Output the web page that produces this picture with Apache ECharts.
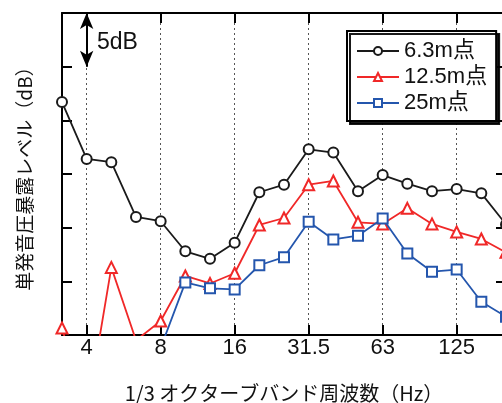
<!DOCTYPE html>
<html>
<head>
<meta charset="utf-8">
<script src="https://cdn.jsdelivr.net/npm/echarts@6/dist/echarts.min.js"></script>
<style>
html,body{margin:0;padding:0;background:#fff;}
#chart{width:502px;height:403px;}
</style>
</head>
<body>
<div id="chart"></div>
<script>
// 1/3 octave band centre frequencies (Hz)
const categories = ['3.15','4','5','6.3','8','10','12.5','16','20','25','31.5','40','50','63','80','100','125','160','200'];
// labelled / gridded bands
const tickLabels = ['4','8','16','31.5','63','125'];
// relative levels in dB (axis bottom = 0, 5 dB per tick)
const s63m  = [21.7, 16.4, 16.1, 11.0, 10.6, 7.8, 7.1, 8.6, 13.3, 14.0, 17.3, 17.0, 13.4, 14.9, 14.1, 13.4, 13.6, 13.2, 10.3];
const s125m = [0.65, -7.4, 6.3, -0.5, 1.3, 5.5, 4.8, 5.75, 10.25, 10.9, 14.0, 14.35, 10.5, 10.35, 11.8, 10.35, 9.6, 8.95, 7.7];
const s25m  = [null, null, null, null, -1.2, 4.9, 4.35, 4.25, 6.5, 7.25, 10.55, 8.9, 9.25, 10.85, 7.6, 5.9, 6.1, 3.1, 1.7];
const seriesNames = ['6.3m点', '12.5m点', '25m点'];

const latin = 'Liberation Sans, Arial, Noto Sans CJK JP, sans-serif';
const cjk = 'Noto Sans CJK JP, Liberation Sans, sans-serif';
const showIdx = (i) => tickLabels.indexOf(categories[i]) >= 0;

const chart = echarts.init(document.getElementById('chart'), null, {renderer: 'canvas'});

const xCommon = {
  type: 'category',
  data: categories,
  boundaryGap: false,
  axisLine: {show: true, onZero: false, lineStyle: {color: '#000', width: 2}},
  axisTick: {show: true, inside: true, length: 10, interval: (i) => showIdx(i), lineStyle: {color: '#000', width: 2}},
};

const yCommon = {
  type: 'value',
  min: 0, max: 30, interval: 5,
  axisLine: {show: true, lineStyle: {color: '#000', width: 2}},
  axisTick: {show: true, inside: true, length: 10, lineStyle: {color: '#000', width: 2}},
  axisLabel: {show: false},
  splitLine: {show: false}
};

const option = {
  animation: false,
  backgroundColor: '#fff',
  grid: {left: 62, top: 13, width: 444, height: 322, containLabel: false, outerBoundsMode: 'none'},
  xAxis: [
    Object.assign({}, xCommon, {
      position: 'bottom',
      axisLabel: {show: true, interval: (i) => showIdx(i), margin: 2, fontSize: 22, fontFamily: latin, color: '#111'},
      splitLine: {show: true, interval: (i) => showIdx(i), lineStyle: {color: '#555', width: 1, type: [2, 3]}},
      name: '1/3 オクターブバンド周波数（Hz）',
      nameLocation: 'middle',
      nameGap: 48,
      nameTextStyle: {fontSize: 20, fontFamily: cjk, color: '#111'}
    }),
    Object.assign({}, xCommon, {
      position: 'top',
      axisLabel: {show: false},
      splitLine: {show: false}
    })
  ],
  yAxis: [
    Object.assign({}, yCommon, {
      position: 'left',
      name: '単発音圧暴露レベル（dB）',
      nameLocation: 'middle',
      nameGap: 28,
      nameTextStyle: {fontSize: 19, fontFamily: cjk, color: '#111'}
    }),
    Object.assign({}, yCommon, {position: 'right'})
  ],
  legend: {
    orient: 'vertical',
    left: 347, top: 31,
    padding: [9, 9, 7, 9],
    itemWidth: 42, itemHeight: 10, itemGap: 4,
    backgroundColor: '#fff',
    borderColor: '#000', borderWidth: 2, borderRadius: 0,
    shadowColor: 'rgba(0,0,0,0.9)', shadowBlur: 0, shadowOffsetX: 3, shadowOffsetY: 3,
    textStyle: {fontSize: 22, fontFamily: latin, color: '#111', lineHeight: 22},
    data: seriesNames
  },
  graphic: [
    {type: 'text', left: 97, top: 31, z: 10,
     style: {text: '5dB', font: '23px Liberation Sans, Arial, sans-serif', fill: '#111'}}
  ],
  series: [
    {
      name: seriesNames[0], type: 'line', data: s63m,
      symbol: 'emptyCircle', symbolSize: 10,
      lineStyle: {color: '#1a1a1a', width: 1.8},
      itemStyle: {color: '#1a1a1a', borderWidth: 1.5},
      z: 3,
      markLine: {
        silent: true,
        symbol: ['arrow', 'arrow'],
        symbolSize: [10, 16],
        label: {show: false},
        lineStyle: {color: '#000', width: 2, type: 'solid'},
        data: [[{coord: ['4', 30]}, {coord: ['4', 25]}]]
      }
    },
    {
      name: seriesNames[1], type: 'line', data: s125m,
      symbol: 'emptyTriangle', symbolSize: 11,
      lineStyle: {color: '#f02828', width: 1.8},
      itemStyle: {color: '#f02828', borderWidth: 1.5},
      z: 4
    },
    {
      name: seriesNames[2], type: 'line', data: s25m,
      symbol: 'emptyRect', symbolSize: 10,
      lineStyle: {color: '#2456ad', width: 1.8},
      itemStyle: {color: '#2456ad', borderWidth: 1.5},
      z: 5
    }
  ]
};
chart.setOption(option);
</script>
</body>
</html>
